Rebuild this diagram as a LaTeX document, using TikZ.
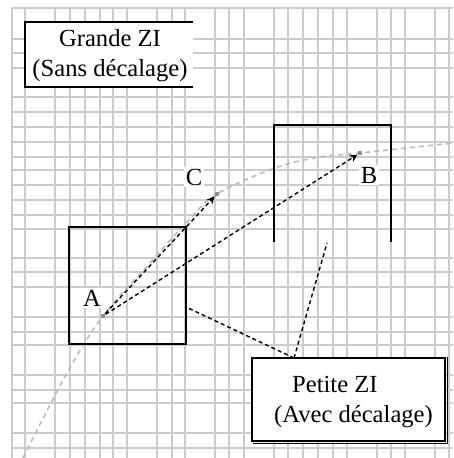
\documentclass[tikz,border=0pt]{standalone}
\usepackage{fontspec}
\setmainfont{Liberation Serif}
\usetikzlibrary{arrows}
\definecolor{gridgray}{RGB}{204,204,204}
\definecolor{curvegray}{RGB}{185,185,185}
\definecolor{markgray}{RGB}{140,140,140}
\tikzstyle{gridline} = [
    line width=0.8pt,
    draw=gridgray
]
\tikzstyle{zoneline} = [
    line width=1pt,
    draw=black
]
\tikzstyle{textbox} = [
    rectangle,
    fill=white,
    inner sep=0pt
]
\tikzstyle{letter} = [
    fill=white,
    inner sep=1pt
]
\tikzstyle{pointmark} = [
    rectangle,
    fill=markgray,
    minimum size=2.2pt,
    inner sep=0pt
]
\tikzstyle{trajectory} = [
    line width=0.8pt,
    draw=curvegray,
    dash pattern=on 2.5pt off 2pt
]
\tikzstyle{pointer} = [
    line width=0.7pt,
    dash pattern=on 2pt off 1.5pt
]
\tikzstyle{arrow} = [pointer,->,>=stealth]

\begin{document}
\begin{tikzpicture}[x=0.5pt, y=-0.5pt,
    every node/.style={font=\fontsize{12.3}{15}\selectfont}]

\useasboundingbox (0,0) rectangle (453,458);
\clip (0,0) rectangle (453,458);

% Grid
\foreach \gx in {12,25,55,70,85,100,113,127,157,172,185,215,229,244,274,288,303,318,333,347,377,391,405,435,449}
    \draw [gridline] (\gx,8) -- (\gx,458);
\foreach \gy in {8,39,53,68,97,112,127,142,157,170,185,200,215,229,258,272,287,317,332,345,375,390,403,433,448}
    \draw [gridline] (12,\gy) -- (453,\gy);

% Trajectory
\draw [trajectory] plot [smooth, tension=0.6] coordinates
    {(23,458) (67,373) (103,316) (150,263) (187,222) (217,194) (275,168) (320,157) (360,153) (453,143)};

% Zones
\draw [zoneline] (69,227) rectangle (186,344);
\draw [zoneline] (274,242) -- (274,125) -- (391,125) -- (391,242);

% Points
\node (A) [pointmark] at (103,316) {};
\node (C) [pointmark] at (217,194) {};
\node (B) [pointmark] at (360,153) {};

\node (labelA) [letter] at (92,298) {A};
\node (labelB) [letter] at (369,175) {B};
\node (labelC) [letter] at (194,177) {C};

% Arrows
\draw [arrow] (A) -- (C);
\draw [arrow] (A) -- (B);

% Grande ZI
\node (grande) [textbox, minimum width=84pt, minimum height=32.5pt, align=center] at (109,54.5) {};
\node (grandetext) [align=center] at (110,56) {Grande ZI\\(Sans décalage)};
\draw [zoneline] (grande.north east) -- (grande.north west)
    -- (grande.south west) -- (grande.south east);

% Petite ZI
\coordinate (ptrfoot) at (294,358);
\coordinate (ptrA) at (186,307);
\coordinate (ptrB) at (327,243);
\draw [pointer] (ptrfoot) -- (ptrA);
\draw [pointer] (ptrfoot) -- (ptrB);

\node (petite) [textbox, draw=black, line width=1pt, minimum width=96.5pt, minimum height=41.5pt] at (348.5,399.5) {};
\draw [line width=0.6pt] ([xshift=0.8pt]petite.north east) -- ([xshift=0.8pt, yshift=-0.8pt]petite.south east)
    -- ([xshift=0.8pt, yshift=-0.8pt]petite.south west);
\node (petitetext) [align=left] at (353.5,402) {\hspace*{9pt}Petite ZI\\(Avec décalage)};

\end{tikzpicture}
\end{document}
